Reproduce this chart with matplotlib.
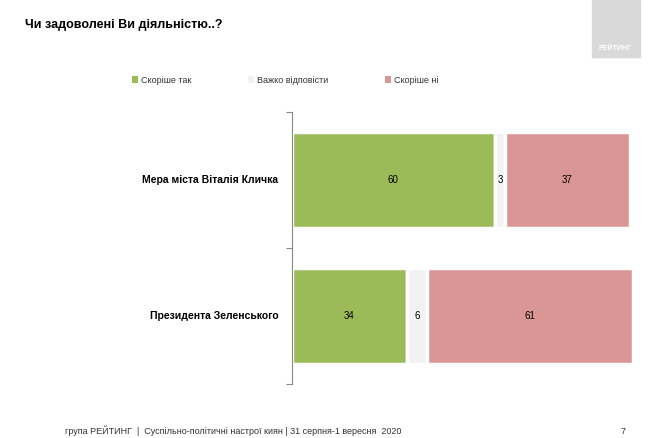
import matplotlib.pyplot as plt
from matplotlib.patches import Rectangle, Patch

plt.rcParams['font.family'] = 'Liberation Sans'

categories = ['Мера міста Віталія Кличка', 'Президента Зеленського']
series_names = ['Скоріше так', 'Важко відповісти', 'Скоріше ні']
values = [[60, 34], [3, 6], [37, 61]]
colors = ['#9bbb59', '#f2f2f2', '#d99694']

fig = plt.figure(figsize=(6.5, 4.38), dpi=100)
ax = fig.add_axes([0.449, 0.123, 0.523, 0.621])

ypos = [0, 1]
left = [0, 0]
for name, vals, c in zip(series_names, values, colors):
    ax.barh(ypos, vals, left=left, height=0.71, color=c, edgecolor='white',
            linewidth=2.5)
    for y, l, v in zip(ypos, left, vals):
        ax.text(l + v / 2, y, str(v), ha='center', va='center', fontsize=7)
    left = [l + v for l, v in zip(left, vals)]

ax.set_xlim(0, 100.5)
ax.set_ylim(1.5, -0.5)
ax.set_yticks([-0.5, 0.5, 1.5])
ax.set_yticklabels([])
ax.tick_params(axis='y', length=4, color='#888888')
ax.set_xticks([])
for s in ['top', 'right', 'bottom']:
    ax.spines[s].set_visible(False)
ax.spines['left'].set_color('#888888')
for y, cat in zip(ypos, categories):
    ax.text(-4, y, cat, ha='right', va='center', fontsize=7.5, fontweight='bold')

fig.text(0.038, 0.935, 'Чи задоволені Ви діяльністю..?', fontsize=9, fontweight='bold')
handles = [Patch(facecolor=c, edgecolor='none') for c in colors]
fig.legend(handles, series_names, loc='center left', bbox_to_anchor=(0.19, 0.817),
           ncol=3, frameon=False, fontsize=6.5, handlelength=0.7, handleheight=0.7,
           columnspacing=6.3, handletextpad=0.3, labelcolor='#333333')
fig.add_artist(Rectangle((0.91, 0.87), 0.075, 0.13, transform=fig.transFigure,
                         color='#d9d9d9'))
fig.text(0.947, 0.885, 'РЕЙТИНГ', color='white', fontsize=5, ha='center',
         fontweight='bold')
fig.text(0.1, 0.01, 'група РЕЙТИНГ  |  Суспільно-політичні настрої киян | 31 серпня-1 вересня  2020',
         fontsize=6.5, color='#333333')
fig.text(0.955, 0.01, '7', fontsize=6.5, color='#333333')

fig.savefig('out.png')
